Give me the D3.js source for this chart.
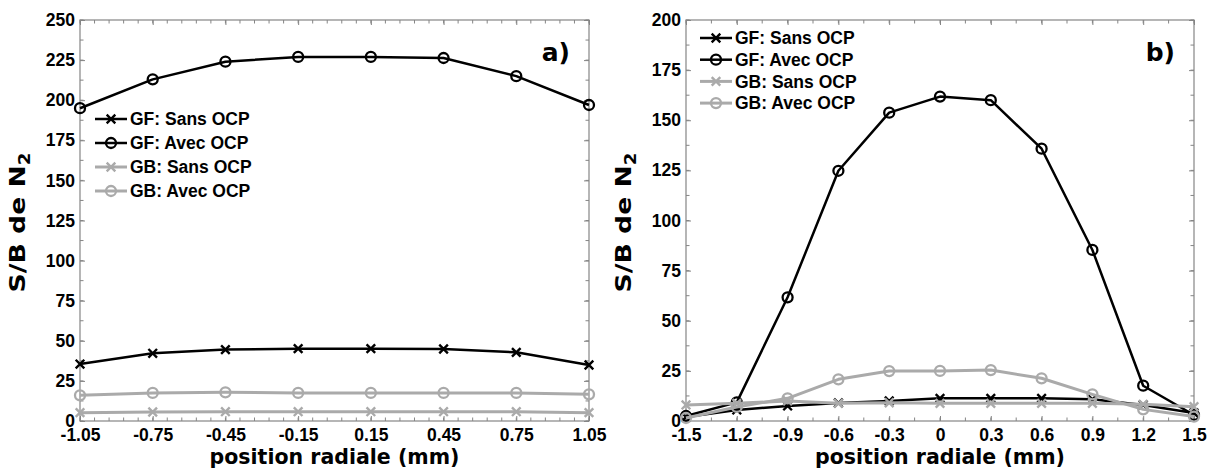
<!DOCTYPE html>
<html><head><meta charset="utf-8">
<script src="https://cdn.jsdelivr.net/npm/d3@7"></script>
<style>body{margin:0;background:#fff}</style>
</head><body><svg id="c" width="1214" height="472" xmlns="http://www.w3.org/2000/svg"></svg>
<script>
// ---------- data: panel a ----------
const xA = [-1.05,-0.75,-0.45,-0.15,0.15,0.45,0.75,1.05];
const gfSansA = [35.5,42.2,44.5,45.1,45.1,44.9,42.8,34.9];
const gfAvecA = [195,213,224,227,227,226.3,215,197];
const gbSansA = [5.2,5.6,5.8,5.8,5.8,5.8,5.8,5.2];
const gbAvecA = [16,17.5,17.9,17.5,17.5,17.5,17.5,16.6];
const xTickLabelsA = ["-1.05","-0.75","-0.45","-0.15","0.15","0.45","0.75","1.05"];
const yTicksA = [0,25,50,75,100,125,150,175,200,225,250];

// ---------- data: panel b ----------
const xB = [-1.5,-1.2,-0.9,-0.6,-0.3,0,0.3,0.6,0.9,1.2,1.5];
const gfSansB = [2,5.5,7.5,9,10,11.3,11.3,11.3,10.8,8,4];
const gfAvecB = [2.5,9.3,61.7,124.8,153.8,161.8,160,135.8,85.3,17.6,3];
const gbSansB = [8,8.8,10,8.8,9.1,8.8,8.8,8.8,8.8,8.3,7.1];
const gbAvecB = [1.5,7,11.3,20.8,24.9,25,25.4,21.3,13.3,5.8,2.2];
const xTickLabelsB = ["-1.5","-1.2","-0.9","-0.6","-0.3","0","0.3","0.6","0.9","1.2","1.5"];
const yTicksB = [0,25,50,75,100,125,150,175,200];

const seriesNames = ["GF: Sans OCP","GF: Avec OCP","GB: Sans OCP","GB: Avec OCP"];
const yLabelMain = "S/B de N";
const yLabelSub = "2";
const xLabelText = "position radiale (mm)";

// ---------- styles ----------
const BLACK = "#000", GRAY = "#aaaaaa", AXIS = "#858585";
const styles = [
  {color: BLACK, marker: "x", lw: 2.5},
  {color: BLACK, marker: "o", lw: 2.5},
  {color: GRAY,  marker: "x", lw: 3},
  {color: GRAY,  marker: "o", lw: 3}
];
const TICKFONT = "'Liberation Sans', Arial, sans-serif";
const LABELFONT = "'DejaVu Sans', sans-serif";

const svg = d3.select("#c");

function drawMarker(g, type, cx, cy, color) {
  if (type === "o") {
    g.append("circle").attr("cx", cx).attr("cy", cy).attr("r", 5)
      .attr("fill", "none").attr("stroke", color).attr("stroke-width", 2.3);
  } else {
    const s = 4.3;
    g.append("path").attr("d", `M${cx-s},${cy-s}L${cx+s},${cy+s}M${cx-s},${cy+s}L${cx+s},${cy-s}`)
      .attr("stroke", color).attr("stroke-width", 2.4).attr("fill", "none");
  }
}

function panel(o) {
  const g = svg.append("g");
  const x = d3.scaleLinear().domain(o.xDomain).range([o.left, o.right]);
  const y = d3.scaleLinear().domain([0, o.yMax]).range([o.bottom, o.top]);

  // box
  g.append("rect").attr("x", o.left).attr("y", o.top)
    .attr("width", o.right - o.left).attr("height", o.bottom - o.top)
    .attr("fill", "none").attr("stroke", AXIS).attr("stroke-width", 1.2);

  // minor ticks (all four sides)
  const eps = 1e-9;
  const xMinor = d3.range(o.xDomain[0], o.xDomain[1] + eps, o.xMinorStep);
  const yMinor = d3.range(0, o.yMax + eps, o.yMinorStep);
  const mt = g.append("g").attr("stroke", AXIS).attr("stroke-width", 1);
  xMinor.forEach(v => {
    mt.append("line").attr("x1", x(v)).attr("x2", x(v)).attr("y1", o.bottom).attr("y2", o.bottom - 3.5);
    mt.append("line").attr("x1", x(v)).attr("x2", x(v)).attr("y1", o.top).attr("y2", o.top + 3.5);
  });
  yMinor.forEach(v => {
    mt.append("line").attr("y1", y(v)).attr("y2", y(v)).attr("x1", o.left).attr("x2", o.left + 3.5);
    mt.append("line").attr("y1", y(v)).attr("y2", y(v)).attr("x1", o.right).attr("x2", o.right - 3.5);
  });

  // major axes
  const ax = g.append("g").attr("transform", `translate(0,${o.bottom})`)
    .call(d3.axisBottom(x).tickValues(o.xs).tickFormat((d, i) => o.xLabels[i]).tickSize(-5).tickSizeOuter(0).tickPadding(8));
  const ay = g.append("g").attr("transform", `translate(${o.left},0)`)
    .call(d3.axisLeft(y).tickValues(o.yTicks).tickFormat(d => String(d)).tickSize(-5).tickSizeOuter(0).tickPadding(5));
  const axT = g.append("g").attr("transform", `translate(0,${o.top})`)
    .call(d3.axisTop(x).tickValues(o.xs).tickFormat("").tickSize(-5).tickSizeOuter(0));
  const ayR = g.append("g").attr("transform", `translate(${o.right},0)`)
    .call(d3.axisRight(y).tickValues(o.yTicks).tickFormat("").tickSize(-5).tickSizeOuter(0));
  [axT, ayR].forEach(a => a.selectAll(".tick text").remove());
  [ax, ay, axT, ayR].forEach(a => {
    a.select(".domain").remove();
    a.selectAll(".tick line").attr("stroke", AXIS).attr("stroke-width", 1);
    a.selectAll(".tick text").style("font-family", TICKFONT).style("font-size", "17.5px")
      .style("font-weight", "bold").attr("fill", "#000");
  });

  // series
  o.series.forEach((vals, si) => {
    const st = styles[si];
    const pts = o.xs.map((xv, i) => [x(xv), y(vals[i])]);
    g.append("path").attr("d", d3.line()(pts)).attr("fill", "none")
      .attr("stroke", st.color).attr("stroke-width", st.lw).attr("stroke-linejoin", "round");
    const mg = g.append("g");
    pts.forEach(p => drawMarker(mg, st.marker, p[0], p[1], st.color));
  });

  // legend
  const lg = g.append("g");
  seriesNames.forEach((name, i) => {
    const st = styles[i];
    const yy = o.legendY0 + i * o.legendDy;
    const x1 = o.legendX, x2 = o.legendX + 32;
    lg.append("line").attr("x1", x1).attr("x2", x2).attr("y1", yy).attr("y2", yy)
      .attr("stroke", st.color).attr("stroke-width", st.lw);
    drawMarker(lg, st.marker, (x1 + x2) / 2, yy, st.color);
    lg.append("text").attr("x", x2 + 3).attr("y", yy).attr("dy", "0.36em")
      .style("font-family", TICKFONT).style("font-size", "17.5px").style("font-weight", "bold")
      .attr("fill", "#000").text(name);
  });

  // panel tag
  g.append("text").attr("x", o.right - 19).attr("y", o.top + 41).attr("text-anchor", "end")
    .attr("font-family", LABELFONT).attr("font-size", 25).attr("font-weight", "bold")
    .attr("fill", "#000").text(o.tag);

  // x label
  const xl = g.append("text").attr("text-anchor", "middle")
    .attr("font-family", LABELFONT).attr("font-size", 22).attr("font-weight", "bold")
    .attr("fill", "#000").text(xLabelText);
  const xw = xl.node().getComputedTextLength();
  const xcx = (o.left + o.right) / 2;
  xl.attr("transform", `translate(${xcx},464) scale(${250 / xw},1)`);

  // y label
  const yl = g.append("text").attr("text-anchor", "middle")
    .attr("font-family", LABELFONT).attr("font-size", 22).attr("font-weight", "bold")
    .attr("fill", "#000");
  yl.append("tspan").text(yLabelMain);
  yl.append("tspan").attr("font-size", 15).attr("dy", 5).text(yLabelSub);
  const yw = yl.node().getBBox().width;
  const ycy = (o.top + o.bottom) / 2 + 2;
  yl.attr("transform", `translate(${o.left - 55},${ycy}) rotate(-90) scale(${140 / yw},1)`);
}

panel({
  left: 80, right: 589, top: 20, bottom: 421,
  xDomain: [-1.05, 1.05], yMax: 250, xs: xA, xLabels: xTickLabelsA, yTicks: yTicksA,
  xMinorStep: 0.06, yMinorStep: 12.5,
  series: [gfSansA, gfAvecA, gbSansA, gbAvecA],
  legendX: 95, legendY0: 119, legendDy: 24, tag: "a)"
});
panel({
  left: 686, right: 1194, top: 20, bottom: 421,
  xDomain: [-1.5, 1.5], yMax: 200, xs: xB, xLabels: xTickLabelsB, yTicks: yTicksB,
  xMinorStep: 0.15, yMinorStep: 12.5,
  series: [gfSansB, gfAvecB, gbSansB, gbAvecB],
  legendX: 700, legendY0: 38, legendDy: 21.7, tag: "b)"
});
</script></body></html>
